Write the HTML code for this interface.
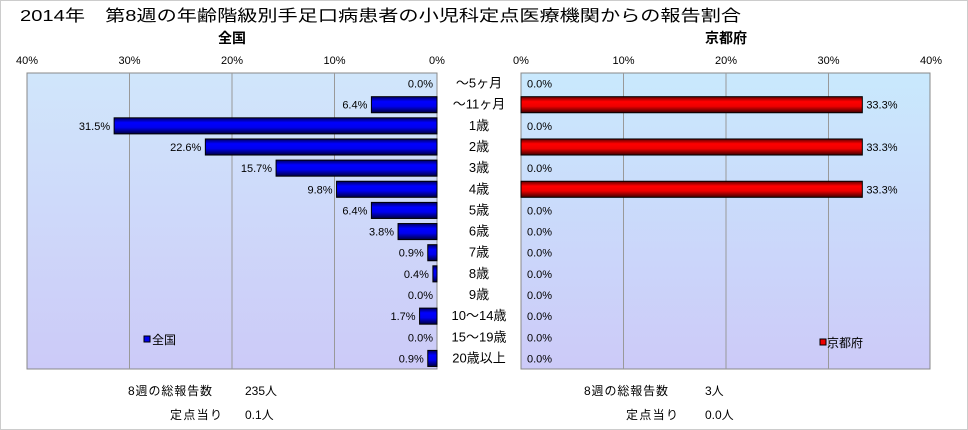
<!DOCTYPE html>
<html><head><meta charset="utf-8"><style>
body{margin:0;background:#fff;}
svg{display:block;font-family:"Liberation Sans","Noto Sans CJK JP",sans-serif;}
</style></head><body>
<svg id="c" width="968" height="430">
<defs>
<linearGradient id="bg" x1="0" y1="0" x2="0" y2="1"><stop offset="0" stop-color="#d0e6fb"/><stop offset="1" stop-color="#cccaf8"/></linearGradient>
<linearGradient id="bg2" x1="0" y1="0" x2="0" y2="1"><stop offset="0" stop-color="#c9e9fd"/><stop offset="1" stop-color="#cccaf8"/></linearGradient>
<linearGradient id="bl" x1="0" y1="0" x2="0" y2="1"><stop offset="0" stop-color="#000060"/><stop offset="0.3" stop-color="#0000ff"/><stop offset="0.6" stop-color="#0000ee"/><stop offset="1" stop-color="#000040"/></linearGradient>
<linearGradient id="rd" x1="0" y1="0" x2="0" y2="1"><stop offset="0" stop-color="#600000"/><stop offset="0.3" stop-color="#ff0000"/><stop offset="0.6" stop-color="#ee0000"/><stop offset="1" stop-color="#400000"/></linearGradient>
</defs>
<rect x="0.5" y="0.5" width="967" height="429" fill="#fff" stroke="#ccc"/>
<text x="20" y="21" font-size="16" textLength="721" lengthAdjust="spacingAndGlyphs">2014年　第8週の年齢階級別手足口病患者の小児科定点医療機関からの報告割合</text>
<text x="232" y="43" font-size="14" font-weight="bold" text-anchor="middle">全国</text>
<text x="726" y="43" font-size="14" font-weight="bold" text-anchor="middle">京都府</text>
<rect x="27" y="73" width="410" height="296" fill="url(#bg)" stroke="#888"/>
<rect x="521" y="73" width="409" height="296" fill="url(#bg2)" stroke="#888"/>
<g id="g"></g>
<rect x="144" y="336" width="6" height="6" fill="#0000ee" stroke="#000"/>
<text x="152" y="344" font-size="12">全国</text>
<rect x="820" y="339" width="6" height="6" fill="#ee0000" stroke="#000"/>
<text x="827" y="347" font-size="12">京都府</text>
<g font-size="12">
<text x="128" y="395" textLength="84">8週の総報告数</text>
<text x="245" y="395">235人</text>
<text x="170" y="419" textLength="52">定点当り</text>
<text x="245" y="419">0.1人</text>
<text x="584" y="395" textLength="84">8週の総報告数</text>
<text x="705" y="395">3人</text>
<text x="626" y="419" textLength="52">定点当り</text>
<text x="705" y="419">0.0人</text>
</g>
</svg>
<script>
const categories=["～5ヶ月","～11ヶ月","1歳","2歳","3歳","4歳","5歳","6歳","7歳","8歳","9歳","10～14歳","15～19歳","20歳以上"];
const nationalValues=[0.0,6.4,31.5,22.6,15.7,9.8,6.4,3.8,0.9,0.4,0.0,1.7,0.0,0.9];
const kyotoValues=[0,33.3,0,33.3,0,33.3,0,0,0,0,0,0,0,0];
const tickLabels=["0%","10%","20%","30%","40%"];
const tickValues=[0,10,20,30,40];
const NS="http://www.w3.org/2000/svg";
const g=document.getElementById('g');
const top0=73,plotH=296,rowH=plotH/categories.length;
const L0=437,R0=521,scale=410/40;
const xL=v=>L0-v*scale, xR=v=>R0+v*scale, yRow=i=>top0+i*rowH;
function mk(t,a){const e=document.createElementNS(NS,t);for(const k in a)e.setAttribute(k,a[k]);g.appendChild(e);return e;}
tickValues.forEach((v,i)=>{
 if(v>0&&v<40){
  let l=mk('line',{x1:xL(v),x2:xL(v),y1:top0,y2:top0+plotH,stroke:'#999'});
  
  
  let r=mk('line',{x1:xR(v),x2:xR(v),y1:top0,y2:top0+plotH,stroke:'#999'});
  
  
 }
 let t=mk('text',{x:xL(v),y:64,'font-size':11,'text-anchor':'middle'});t.textContent=tickLabels[i];
 
 
 let t2=mk('text',{x:xR(v),y:64,'font-size':11,'text-anchor':'middle'});t2.textContent=tickLabels[i];
 
 
});
categories.forEach((c,i)=>{
 const y=yRow(i),bh=rowH*0.76,by=y+(rowH-bh)/2,cy=y+rowH/2+4;
 const nv=nationalValues[i],kv=kyotoValues[i];
 if(nv>0){let b=mk('rect',{x:xL(nv),y:by,width:nv*scale,height:bh,fill:'url(#bl)',stroke:'#000'});
  
  }
 let t=mk('text',{x:xL(nv)-4,y:cy,'font-size':11,'text-anchor':'end'});t.textContent=nv.toFixed(1)+'%';
 
 
 if(kv>0){let b=mk('rect',{x:xR(0),y:by,width:kv*scale,height:bh,fill:'url(#rd)',stroke:'#000'});
  
  }
 let t2=mk('text',{x:kv>0?xR(kv)+4:R0+6,y:cy,'font-size':11});t2.textContent=kv.toFixed(1)+'%';
 
 
 let cl=mk('text',{x:479,y:cy,'font-size':13,'text-anchor':'middle'});cl.textContent=c;
 
 
});
</script>
</body></html>
